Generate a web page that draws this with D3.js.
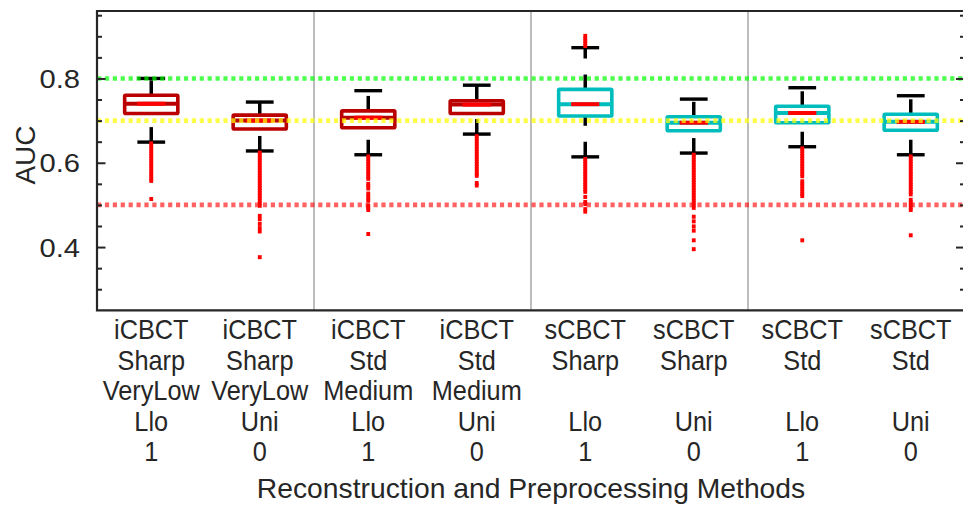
<!DOCTYPE html>
<html>
<head>
<meta charset="utf-8">
<script src="https://cdn.jsdelivr.net/npm/d3@7"></script>
<style>
  body { margin: 0; background: #fff; }
  svg { display: block; }
  text { font-family: "Liberation Sans", Arial, Helvetica, sans-serif; fill: #262626; }
</style>
</head>
<body>
<svg id="chart" width="963" height="506"></svg>
<script>
// ---------- data ----------
const labelLines = [
  ["iCBCT", "Sharp", "VeryLow", "Llo", "1"],
  ["iCBCT", "Sharp", "VeryLow", "Uni", "0"],
  ["iCBCT", "Std", "Medium", "Llo", "1"],
  ["iCBCT", "Std", "Medium", "Uni", "0"],
  ["sCBCT", "Sharp", "", "Llo", "1"],
  ["sCBCT", "Sharp", "", "Uni", "0"],
  ["sCBCT", "Std", "", "Llo", "1"],
  ["sCBCT", "Std", "", "Uni", "0"]
];
const q1      = [0.717, 0.680, 0.683, 0.717, 0.711, 0.676, 0.695, 0.677];
const medians = [0.740, 0.700, 0.707, 0.738, 0.739, 0.695, 0.718, 0.697];
const q3      = [0.760, 0.713, 0.723, 0.747, 0.774, 0.709, 0.734, 0.715];
const lowAdj  = [0.649, 0.628, 0.619, 0.668, 0.614, 0.623, 0.638, 0.619];
const highAdj = [0.800, 0.744, 0.771, 0.784, 0.873, 0.751, 0.778, 0.759];
const outliers = [
  [0.646,0.640,0.634,0.628,0.622,0.616,0.610,0.604,0.598,0.592,0.586,0.580,0.574,0.568,0.562,0.557,0.514],
  [0.624,0.618,0.612,0.606,0.600,0.594,0.588,0.582,0.576,0.570,0.564,0.558,0.552,0.546,0.540,0.534,0.528,0.522,0.516,0.510,0.504,0.498,0.474,0.466,0.455,0.445,0.437,0.376],
  [0.615,0.609,0.603,0.597,0.591,0.585,0.579,0.573,0.567,0.562,0.550,0.545,0.539,0.527,0.521,0.515,0.510,0.498,0.493,0.488,0.431],
  [0.663,0.657,0.651,0.645,0.639,0.633,0.627,0.621,0.615,0.609,0.603,0.597,0.591,0.585,0.579,0.573,0.569,0.552,0.546],
  [0.877,0.883,0.889,0.895,0.901,
   0.609,0.603,0.597,0.591,0.585,0.579,0.573,0.567,0.561,0.555,0.549,0.543,0.537,0.531,0.519,0.507,0.502,0.490,0.484],
  [0.619,0.613,0.607,0.601,0.595,0.589,0.583,0.577,0.571,0.565,0.559,0.553,0.547,0.541,0.535,0.529,0.523,0.517,0.511,0.505,0.499,0.493,0.472,0.461,0.449,0.439,0.416,0.395],
  [0.634,0.628,0.622,0.616,0.610,0.604,0.598,0.592,0.586,0.580,0.574,0.568,0.556,0.550,0.544,0.538,0.532,0.526,0.521,0.416],
  [0.615,0.609,0.603,0.597,0.591,0.585,0.579,0.573,0.567,0.561,0.555,0.549,0.543,0.537,0.531,0.525,0.512,0.506,0.500,0.494,0.488,0.428]
];
const refValues = [0.8, 0.7, 0.5];
const yMajorTicks = [0.4, 0.6, 0.8];
const yMinorTicks = [0.3, 0.35, 0.45, 0.5, 0.55, 0.65, 0.7, 0.75, 0.85, 0.9, 0.95];
const yTickLabels = ["0.4", "0.6", "0.8"];
const xTitle = "Reconstruction and Preprocessing Methods";
const yTitle = "AUC";

// ---------- setup ----------
const svg = d3.select("#chart");
const pL = 97, pR = 965, pT = 11, pB = 310.3;
const n = labelLines.length;
const x = d3.scaleLinear().domain([0.5, n + 0.5]).range([pL, pR]);
const y = d3.scaleLinear().domain([0.25, 0.96]).range([pB, pT]);
const families = labelLines.map(d => d[0]);
const boxColor = d3.scaleOrdinal().domain(["iCBCT", "sCBCT"]).range(["#bb0000", "#00bdbd"]);
const refColor = d3.scaleOrdinal().domain(refValues).range(["#00ff00", "#ffff00", "#ff0000"]);
const refOpacity = d3.scaleOrdinal().domain(refValues).range([0.7, 0.72, 0.62]);
const idx = d3.range(n);
const pos = i => x(i + 1);
const boxW = (x(1.49) - x(1)), capW = (x(1.128) - x(1)), medRedW = (x(1.13) - x(1));
const textColor = "#262626";

// group separators where the first two label lines change
const seps = idx.slice(0, -1)
  .filter(i => (labelLines[i][0] + labelLines[i][1]) !== (labelLines[i + 1][0] + labelLines[i + 1][1]))
  .map(i => i + 1.5);
svg.append("g").selectAll("line").data(seps).join("line")
  .attr("x1", d => x(d)).attr("x2", d => x(d))
  .attr("y1", pT).attr("y2", pB)
  .attr("stroke", "#bdbdbd").attr("stroke-width", 2);

// whiskers (dashed, drawn from lower value to higher value)
const wg = svg.append("g").attr("stroke", "#000").attr("stroke-width", 3.5)
  .attr("stroke-dasharray", "15,16").attr("fill", "none");
wg.selectAll("path.up").data(idx).join("path").attr("class", "up")
  .attr("d", i => d3.line()([[pos(i), y(q3[i])], [pos(i), y(highAdj[i])]]));
wg.selectAll("path.lo").data(idx).join("path").attr("class", "lo")
  .attr("d", i => d3.line()([[pos(i), y(lowAdj[i])], [pos(i), y(q1[i])]]));

// boxes
svg.append("g").selectAll("rect").data(idx).join("rect")
  .attr("x", i => pos(i) - boxW / 2).attr("width", boxW)
  .attr("y", i => y(q3[i])).attr("height", i => y(q1[i]) - y(q3[i]))
  .attr("fill", "#fff").attr("stroke", i => boxColor(families[i])).attr("stroke-width", 3.6)
  .attr("rx", 1);

// medians (full width in box colour, red centre part)
svg.append("g").selectAll("line").data(idx).join("line")
  .attr("x1", i => pos(i) - boxW / 2).attr("x2", i => pos(i) + boxW / 2)
  .attr("y1", i => y(medians[i])).attr("y2", i => y(medians[i]))
  .attr("stroke", i => boxColor(families[i])).attr("stroke-width", 4);
svg.append("g").selectAll("line").data(idx).join("line")
  .attr("x1", i => pos(i) - medRedW).attr("x2", i => pos(i) + medRedW)
  .attr("y1", i => y(medians[i])).attr("y2", i => y(medians[i]))
  .attr("stroke", "#ff0000").attr("stroke-width", 4);

// caps
const cg = svg.append("g").attr("stroke", "#000").attr("stroke-width", 3.4);
cg.selectAll("line.hi").data(idx).join("line").attr("class", "hi")
  .attr("x1", i => pos(i) - capW).attr("x2", i => pos(i) + capW)
  .attr("y1", i => y(highAdj[i])).attr("y2", i => y(highAdj[i]));
cg.selectAll("line.lo").data(idx).join("line").attr("class", "lo")
  .attr("x1", i => pos(i) - capW).attr("x2", i => pos(i) + capW)
  .attr("y1", i => y(lowAdj[i])).attr("y2", i => y(lowAdj[i]));

// outliers
const outPts = idx.flatMap(i => outliers[i].map(v => ({ i, v })));
svg.append("g").selectAll("rect").data(outPts).join("rect")
  .attr("x", d => pos(d.i) - 1.9).attr("width", 3.8)
  .attr("y", d => y(d.v) - 2).attr("height", 4)
  .attr("fill", "#ff0000");

// reference lines (dotted, semi-transparent, on top)
svg.append("g").selectAll("line").data(refValues).join("line")
  .attr("x1", pL).attr("x2", pR)
  .attr("y1", d => y(d)).attr("y2", d => y(d))
  .attr("stroke", d => refColor(d)).attr("stroke-opacity", d => refOpacity(d))
  .attr("stroke-width", 4.6).attr("stroke-dasharray", "4.2,3.7");

// axes ticks (inward)
function ticks(axisFn, xPos, vals, len) {
  const g = svg.append("g").attr("transform", `translate(${xPos},0)`)
    .call(axisFn(y).tickValues(vals).tickSizeInner(len).tickSizeOuter(0).tickFormat(""));
  g.select(".domain").remove();
  g.selectAll("line").attr("stroke", textColor).attr("stroke-width", 2);
}
ticks(d3.axisLeft, pL, yMajorTicks, -8.5);
ticks(d3.axisLeft, pL, yMinorTicks, -5);
ticks(d3.axisRight, pR, yMajorTicks, -9);
ticks(d3.axisRight, pR, yMinorTicks, -5);

// frame
svg.append("path")
  .attr("d", `M${pL},${pT} H${pR} V${pB} H${pL} Z`)
  .attr("fill", "none").attr("stroke", textColor).attr("stroke-width", 2.2);

// y tick labels
svg.append("g").selectAll("text").data(yMajorTicks).join("text")
  .attr("transform", d => `translate(80,${y(d) + 9.5}) scale(1.1,1)`)
  .attr("text-anchor", "end").attr("font-size", 26.5)
  .text((d, k) => yTickLabels[k]);

// x category labels (multi-line)
const xl = svg.append("g");
idx.forEach(i => {
  labelLines[i].forEach((s, k) => {
    if (!s) return;
    xl.append("text")
      .attr("transform", `translate(${pos(i)},${339 + k * 30.5}) scale(0.92,1)`)
      .attr("text-anchor", "middle").attr("font-size", 27.5).text(s);
  });
});

// axis titles
svg.append("text")
  .attr("transform", `translate(${(pL + pR) / 2},498) scale(1.01,1)`)
  .attr("text-anchor", "middle").attr("font-size", 28).text(xTitle);
svg.append("text")
  .attr("transform", `translate(35,155) rotate(-90)`)
  .attr("text-anchor", "middle").attr("font-size", 28).text(yTitle);
</script>
</body>
</html>
